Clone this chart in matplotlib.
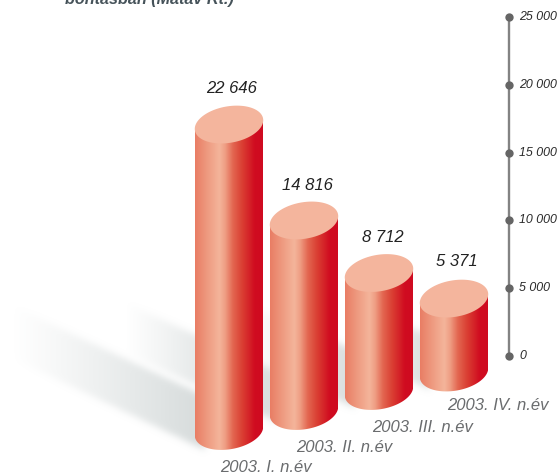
import numpy as np
import matplotlib
matplotlib.use("Agg")
import matplotlib.pyplot as plt
from matplotlib.colors import LinearSegmentedColormap
from matplotlib.patches import Polygon
from matplotlib.path import Path

# ---- data ----
categories = ["2003. I. n.év", "2003. II. n.év", "2003. III. n.év", "2003. IV. n.év"]
value_labels = ["22 646", "14 816", "8 712", "5 371"]
# column heights at the right
drawn_values = [22600, 14050, 8700, 5450]
axis_ticks = [0, 5000, 10000, 15000, 20000, 25000]
axis_tick_labels = ["0", "5 000", "10 000", "15 000", "20 000", "25 000"]
title_fragment = "bontásban (Matáv Rt.)"

# ---- layout (pixels of the 558x476 picture) ----
W, H = 558, 476
Y0_PX, PX_PER_UNIT = 356.0, 339.0 / 25000
def v(py):
    return (Y0_PX - py) / PX_PER_UNIT

bar_cx = [229, 304, 379, 454]
bar_base_px = [431, 411, 391, 372.5]
HALF_W_A, HALF_H_B, TILT = 34.6, 18.2, np.radians(10)
value_pos = [(232, 88), (307, 185), (383, 238), (457, 262)]
cat_pos = [(266, 468), (344, 447), (423, 427), (498, 405)]

plt.rcParams["font.family"] = ["Liberation Sans", "DejaVu Sans"]
fig = plt.figure(figsize=(W / 100, H / 100), dpi=100)
ax = fig.add_axes([0, 0, 1, 1])
ax.set_axis_off()

# ---- soft floor shadows ----
sx, sy = np.meshgrid(np.arange(W) + 0.5, np.arange(H) + 0.5)
shadow_polys = [
    [(205, 450), (12, 358), (12, 306), (205, 396)],
    [(280, 423), (125, 353), (125, 303), (280, 373)],
    [(355, 408), (245, 358), (245, 305), (355, 350)],
    [(430, 390), (350, 352), (350, 305), (430, 335)],
]
shadow_strength = [0.62, 0.55, 0.55, 0.5]
shadow_ramp_end = [200, 225, 345, 420]
pts = np.column_stack([sx.ravel(), sy.ravel()])
keep = np.ones((H, W))
kernel = np.exp(-np.arange(-12, 13) ** 2 / (2 * 3.5 ** 2))
kernel /= kernel.sum()
for poly, amax, x1 in zip(shadow_polys, shadow_strength, shadow_ramp_end):
    mask = Path(poly).contains_points(pts).reshape(H, W).astype(float)
    mask = np.apply_along_axis(lambda r: np.convolve(r, kernel, "same"), 0, mask)
    mask = np.apply_along_axis(lambda r: np.convolve(r, kernel, "same"), 1, mask)
    x0 = poly[1][0]
    ramp = np.clip((sx - x0) / (x1 - x0), 0, 1) ** 1.1
    keep *= 1 - amax * mask * ramp
rgba = np.zeros((H, W, 4))
rgba[..., :3] = np.array([190, 198, 198]) / 255
rgba[..., 3] = 1 - keep
extent = (0, W, v(H), v(0))
ax.imshow(rgba, extent=extent, origin="upper", aspect="auto", zorder=1)

# ---- cylinders ----
cyl_cmap = LinearSegmentedColormap.from_list("cyl", [
    (0.00, "#e97d64"), (0.18, "#ee9a80"), (0.36, "#f4b59b"), (0.44, "#ef9f85"),
    (0.56, "#e36650"), (0.70, "#da3d32"), (0.88, "#d00c20"), (1.00, "#cf0a20")])
grad = np.linspace(0, 1, 256).reshape(1, -1)
t = np.linspace(0, 2 * np.pi, 361)[:-1]

def ellipse_px(cx, cy):
    ex = HALF_W_A * np.cos(t)
    ey = HALF_H_B * np.sin(t)
    # positive tilt lifts the right side (y pixels grow downwards)
    return (cx + ex * np.cos(TILT) + ey * np.sin(TILT),
            cy - ex * np.sin(TILT) + ey * np.cos(TILT))

for i, val in enumerate(drawn_values):
    cx, base = bar_cx[i], bar_base_px[i]
    top = base - val * PX_PER_UNIT
    bx, by = ellipse_px(cx, base)
    tx, ty = ellipse_px(cx, top)
    il, ir = np.argmin(bx), np.argmax(bx)
    # lower arc of the base, from the rightmost to the leftmost point
    idx = np.arange(ir, il + 361) % 360 if il < ir else np.arange(ir, il + 1)
    side = [(bx[j], v(by[j])) for j in idx]
    side += [(tx[il], v(ty[il])), (tx[ir], v(ty[ir]))]
    patch = Polygon(side, closed=True, facecolor="none", edgecolor="none", zorder=2)
    ax.add_patch(patch)
    im = ax.imshow(grad, cmap=cyl_cmap, aspect="auto", zorder=2, interpolation="bilinear",
                   extent=(cx - 34, cx + 34, v(by.max() + 1), v(ty.min())))
    im.set_clip_path(patch)
    ax.fill(tx, v(ty), color="#f4b59d", lw=0, zorder=3)
    ax.text(value_pos[i][0], v(value_pos[i][1]), value_labels[i], fontsize=12.0,
            style="italic", color="#222222", ha="center", va="center", zorder=5)
    ax.text(cat_pos[i][0], v(cat_pos[i][1]), categories[i], fontsize=12.0,
            style="italic", color="#6a6c6e", ha="center", va="center", zorder=5)

# ---- value axis ----
AXIS_X = 509
ax.plot([AXIS_X, AXIS_X], [axis_ticks[0], axis_ticks[-1]], color="#838383", lw=1.7,
        solid_capstyle="butt", zorder=4)
ax.plot([AXIS_X] * len(axis_ticks), axis_ticks, "o", ms=6, mfc="#656565", mec="none", zorder=5)
for val, lab in zip(axis_ticks, axis_tick_labels):
    ax.text(519, val, lab, fontsize=8.9, style="italic", color="#2a2a2a",
            ha="left", va="center", zorder=5)

# ---- clipped title fragment ----
ax.text(65, v(4), title_fragment, fontsize=11.6, style="italic", weight="bold",
        color="#46535a", ha="left", va="baseline", zorder=5)

ax.set_xlim(0, W)
ax.set_ylim(v(H), v(0))
fig.savefig("out.png", dpi=100, facecolor="white")
